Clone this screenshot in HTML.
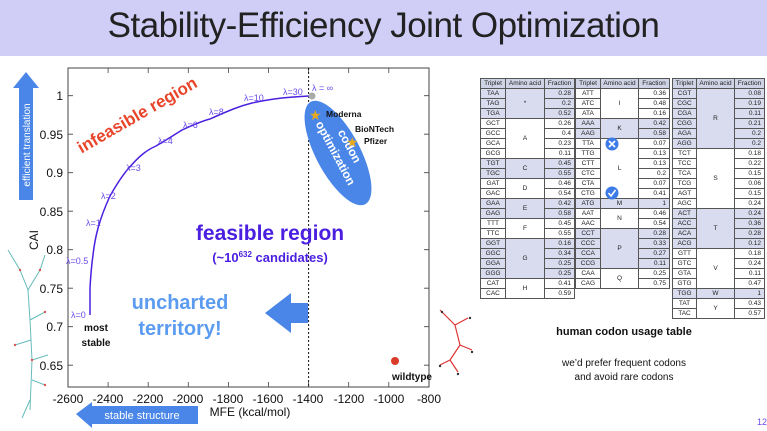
<!DOCTYPE html>
<html><head><meta charset="utf-8"><style>
body{margin:0;width:767px;height:431px;overflow:hidden;background:#fff;font-family:"Liberation Sans",sans-serif;position:relative}
.band{position:absolute;left:0;top:0;width:767px;height:56px;background:#d0cdf7}
.title{position:absolute;left:0;top:6px;width:767px;text-align:center;font-size:35px;color:#222;letter-spacing:-0.5px}
table{position:absolute;border-collapse:collapse;font-size:6.5px;color:#222;table-layout:fixed}
td{border:0.6px solid #555;height:9px;padding:0;text-align:center;line-height:9px}
td.f{text-align:right;padding-right:3px}
tr.h td{background:#cfd3e6;height:9px}
.s{background:#d9dcef}
</style></head><body>
<div class="band"></div>
<div class="title">Stability-Efficiency Joint Optimization</div>
<svg width="767" height="431" style="position:absolute;left:0;top:0" font-family="Liberation Sans, sans-serif">
<g stroke="#6bb" stroke-width="1" fill="none">
<path d="M30 410 L32 360 L30 320 L28 290 L20 270 L8 250 M28 290 L40 270 L45 255 M30 320 L45 312 M32 360 L48 355 M31 340 L15 345 M32 380 L45 385 M30 400 L22 418"/>
</g>
<g fill="#d55"><circle cx="20" cy="270" r="1.2"/><circle cx="40" cy="270" r="1.2"/><circle cx="45" cy="312" r="1.2"/><circle cx="32" cy="360" r="1.2"/><circle cx="15" cy="345" r="1.2"/><circle cx="45" cy="385" r="1.2"/></g>
<g stroke="#d33" stroke-width="1.2" fill="none"><path d="M440 310 L455 325 L460 345 L450 360 L458 372 M455 325 L468 318 M460 345 L472 350 M450 360 L440 365"/></g>
<g fill="#333"><circle cx="442" cy="312" r="1.2"/><circle cx="470" cy="318" r="1.2"/><circle cx="472" cy="352" r="1.2"/><circle cx="440" cy="366" r="1.2"/><circle cx="458" cy="374" r="1.2"/></g>
<rect x="68" y="68" width="361" height="319" fill="none" stroke="#444" stroke-width="1"/>
<g stroke="#444" stroke-width="0.8">
<path d="M68 95.7h5M68 134.2h5M68 172.7h5M68 211.2h5M68 249.7h5M68 288.2h5M68 326.7h5M68 365.2h5"/>
<path d="M429 95.7h-5M429 134.2h-5M429 172.7h-5M429 211.2h-5M429 249.7h-5M429 288.2h-5M429 326.7h-5M429 365.2h-5"/>
<path d="M108.1 387v-5M148.2 387v-5M188.3 387v-5M228.4 387v-5M268.5 387v-5M308.6 387v-5M348.7 387v-5M388.8 387v-5"/>
<path d="M108.1 68v5M148.2 68v5M188.3 68v5M228.4 68v5M268.5 68v5M308.6 68v5M348.7 68v5M388.8 68v5"/>
</g>
<g font-size="12" fill="#111" text-anchor="end">
<text x="63" y="100">1</text><text x="63" y="139">0.95</text><text x="63" y="177">0.9</text><text x="63" y="216">0.85</text><text x="63" y="254">0.8</text><text x="63" y="293">0.75</text><text x="63" y="331">0.7</text><text x="63" y="370">0.65</text>
</g>
<g font-size="12" fill="#111" text-anchor="middle">
<text x="68" y="403">-2600</text><text x="108" y="403">-2400</text><text x="148" y="403">-2200</text><text x="188" y="403">-2000</text><text x="228" y="403">-1800</text><text x="268" y="403">-1600</text><text x="308" y="403">-1400</text><text x="349" y="403">-1200</text><text x="389" y="403">-1000</text><text x="429" y="403">-800</text>
<text x="250" y="416" font-size="12">MFE (kcal/mol)</text>
</g>
<text x="0" y="0" font-size="12" fill="#111" transform="translate(38,240) rotate(-90)" text-anchor="middle">CAI</text>
<line x1="308.6" y1="68" x2="308.6" y2="387" stroke="#111" stroke-width="1" stroke-dasharray="2,2"/>
<ellipse cx="338" cy="153" rx="22" ry="58" fill="#4a86e8" transform="rotate(-28 338 153)"/>
<g fill="#fff" font-size="12" font-weight="bold" text-anchor="middle">
<text transform="translate(346,148) rotate(62)">codon</text>
<text transform="translate(332,155) rotate(62)">optimization</text>
</g>
<path d="M90 315 L90 288 C91 270 92 262 93 255 C95 237 99 220 110 196 C118 182 122 176 128 169 C140 155 147 150 156 146 C168 139 174 135 182 130 C195 124 202 121 210 119 C230 110 240 106 252 103 C275 98 290 97 309 96" fill="none" stroke="#4a1fe0" stroke-width="1.5"/>
<g font-size="9" fill="#6a4ae8">
<text x="71" y="318">λ=0</text><text x="66" y="264">λ=0.5</text><text x="86" y="226">λ=1</text><text x="101" y="199">λ=2</text><text x="126" y="171">λ=3</text><text x="158" y="144">λ=4</text><text x="183" y="128">λ=6</text><text x="209" y="115">λ=8</text><text x="244" y="101">λ=10</text><text x="283" y="95">λ=30</text><text x="312" y="91">λ = ∞</text>
</g>
<circle cx="312" cy="96" r="3.5" fill="#aaa"/>
<g fill="#e8a820" font-size="14"><text x="309" y="120">★</text><text x="346" y="147">★</text></g>
<g font-size="8.5" font-weight="bold" fill="#111"><text x="326" y="117">Moderna</text><text x="355" y="132">BioNTech</text><text x="364" y="144">Pfizer</text></g>
<text x="140" y="120" font-size="17" font-weight="bold" fill="#e8452a" text-anchor="middle" transform="rotate(-30 140 120)">infeasible region</text>
<text x="270" y="240" font-size="21" font-weight="bold" fill="#4b1fe0" text-anchor="middle">feasible region</text>
<text x="270" y="262" font-size="13" font-weight="bold" fill="#4b1fe0" text-anchor="middle">(~10<tspan font-size="8" dy="-5">632</tspan><tspan dy="5"> candidates)</tspan></text>
<g font-size="20" font-weight="bold" fill="#5b9cf0" text-anchor="middle"><text x="180" y="309">uncharted</text><text x="180" y="335">territory!</text></g>
<path d="M265 313 L291 293 L291 303 L308 303 L308 323 L291 323 L291 333 Z" fill="#4a86e8"/>
<g font-size="10" font-weight="bold" fill="#111" text-anchor="middle"><text x="96" y="331">most</text><text x="96" y="346">stable</text></g>
<circle cx="395" cy="361" r="4" fill="#d93a2a"/>
<text x="412" y="380" font-size="10" font-weight="bold" fill="#111" text-anchor="middle">wildtype</text>
<path d="M26 72 L39 88 L33 88 L33 200 L19 200 L19 88 L13 88 Z" fill="#4a86e8"/>
<text transform="translate(30,145) rotate(-90)" font-size="10" fill="#fff" text-anchor="middle">efficient translation</text>
<path d="M76 414 L92 402 L92 406 L198 406 L198 424 L92 424 L92 428 Z" fill="#4a86e8"/>
<text x="142" y="419" font-size="11" fill="#fff" text-anchor="middle">stable structure</text>
<text x="624" y="335" font-size="11" font-weight="bold" fill="#111" text-anchor="middle">human codon usage table</text>
<g font-size="10" fill="#111" text-anchor="middle"><text x="624" y="366">we’d prefer frequent codons</text><text x="624" y="380">and avoid rare codons</text></g>
<text x="757" y="425" font-size="9" fill="#6a4ae8">12</text>
</svg>

<table style="left:480px;top:78px;width:94px"><colgroup><col style="width:25px"><col style="width:39px"><col style="width:30px"></colgroup>
<tr class="h"><td>Triplet</td><td>Amino acid</td><td>Fraction</td></tr>
<tr class="s"><td>TAA</td><td rowspan="3">*</td><td class="f">0.28</td></tr><tr class="s"><td>TAG</td><td class="f">0.2</td></tr><tr class="s"><td>TGA</td><td class="f">0.52</td></tr>
<tr><td>GCT</td><td rowspan="4">A</td><td class="f">0.26</td></tr><tr><td>GCC</td><td class="f">0.4</td></tr><tr><td>GCA</td><td class="f">0.23</td></tr><tr><td>GCG</td><td class="f">0.11</td></tr>
<tr class="s"><td>TGT</td><td rowspan="2">C</td><td class="f">0.45</td></tr><tr class="s"><td>TGC</td><td class="f">0.55</td></tr>
<tr><td>GAT</td><td rowspan="2">D</td><td class="f">0.46</td></tr><tr><td>GAC</td><td class="f">0.54</td></tr>
<tr class="s"><td>GAA</td><td rowspan="2">E</td><td class="f">0.42</td></tr><tr class="s"><td>GAG</td><td class="f">0.58</td></tr>
<tr><td>TTT</td><td rowspan="2">F</td><td class="f">0.45</td></tr><tr><td>TTC</td><td class="f">0.55</td></tr>
<tr class="s"><td>GGT</td><td rowspan="4">G</td><td class="f">0.16</td></tr><tr class="s"><td>GGC</td><td class="f">0.34</td></tr><tr class="s"><td>GGA</td><td class="f">0.25</td></tr><tr class="s"><td>GGG</td><td class="f">0.25</td></tr>
<tr><td>CAT</td><td rowspan="2">H</td><td class="f">0.41</td></tr><tr><td>CAC</td><td class="f">0.59</td></tr>
</table>

<table style="left:575px;top:78px;width:94px"><colgroup><col style="width:25px"><col style="width:38px"><col style="width:31px"></colgroup>
<tr class="h"><td>Triplet</td><td>Amino acid</td><td>Fraction</td></tr>
<tr><td>ATT</td><td rowspan="3">I</td><td class="f">0.36</td></tr><tr><td>ATC</td><td class="f">0.48</td></tr><tr><td>ATA</td><td class="f">0.16</td></tr>
<tr class="s"><td>AAA</td><td rowspan="2">K</td><td class="f">0.42</td></tr><tr class="s"><td>AAG</td><td class="f">0.58</td></tr>
<tr><td>TTA</td><td rowspan="6">L</td><td class="f">0.07</td></tr><tr><td>TTG</td><td class="f">0.13</td></tr><tr><td>CTT</td><td class="f">0.13</td></tr><tr><td>CTC</td><td class="f">0.2</td></tr><tr><td>CTA</td><td class="f">0.07</td></tr><tr><td>CTG</td><td class="f">0.41</td></tr>
<tr class="s"><td>ATG</td><td>M</td><td class="f">1</td></tr>
<tr><td>AAT</td><td rowspan="2">N</td><td class="f">0.46</td></tr><tr><td>AAC</td><td class="f">0.54</td></tr>
<tr class="s"><td>CCT</td><td rowspan="4">P</td><td class="f">0.28</td></tr><tr class="s"><td>CCC</td><td class="f">0.33</td></tr><tr class="s"><td>CCA</td><td class="f">0.27</td></tr><tr class="s"><td>CCG</td><td class="f">0.11</td></tr>
<tr><td>CAA</td><td rowspan="2">Q</td><td class="f">0.25</td></tr><tr><td>CAG</td><td class="f">0.75</td></tr>
</table>

<table style="left:672px;top:78px;width:92px"><colgroup><col style="width:24px"><col style="width:38px"><col style="width:30px"></colgroup>
<tr class="h"><td>Triplet</td><td>Amino acid</td><td>Fraction</td></tr>
<tr class="s"><td>CGT</td><td rowspan="6">R</td><td class="f">0.08</td></tr><tr class="s"><td>CGC</td><td class="f">0.19</td></tr><tr class="s"><td>CGA</td><td class="f">0.11</td></tr><tr class="s"><td>CGG</td><td class="f">0.21</td></tr><tr class="s"><td>AGA</td><td class="f">0.2</td></tr><tr class="s"><td>AGG</td><td class="f">0.2</td></tr>
<tr><td>TCT</td><td rowspan="6">S</td><td class="f">0.18</td></tr><tr><td>TCC</td><td class="f">0.22</td></tr><tr><td>TCA</td><td class="f">0.15</td></tr><tr><td>TCG</td><td class="f">0.06</td></tr><tr><td>AGT</td><td class="f">0.15</td></tr><tr><td>AGC</td><td class="f">0.24</td></tr>
<tr class="s"><td>ACT</td><td rowspan="4">T</td><td class="f">0.24</td></tr><tr class="s"><td>ACC</td><td class="f">0.36</td></tr><tr class="s"><td>ACA</td><td class="f">0.28</td></tr><tr class="s"><td>ACG</td><td class="f">0.12</td></tr>
<tr><td>GTT</td><td rowspan="4">V</td><td class="f">0.18</td></tr><tr><td>GTC</td><td class="f">0.24</td></tr><tr><td>GTA</td><td class="f">0.11</td></tr><tr><td>GTG</td><td class="f">0.47</td></tr>
<tr class="s"><td>TGG</td><td>W</td><td class="f">1</td></tr>
<tr><td>TAT</td><td rowspan="2">Y</td><td class="f">0.43</td></tr><tr><td>TAC</td><td class="f">0.57</td></tr>
</table>

<svg width="767" height="431" style="position:absolute;left:0;top:0">
<circle cx="612" cy="144" r="6.5" fill="#3d7be8"/><path d="M609 141 L615 147 M615 141 L609 147" stroke="#fff" stroke-width="1.6"/>
<circle cx="612" cy="193" r="6.5" fill="#3d7be8"/><path d="M608.5 193 L611 196 L615.5 190" stroke="#fff" stroke-width="1.6" fill="none"/>
</svg>
</body></html>
